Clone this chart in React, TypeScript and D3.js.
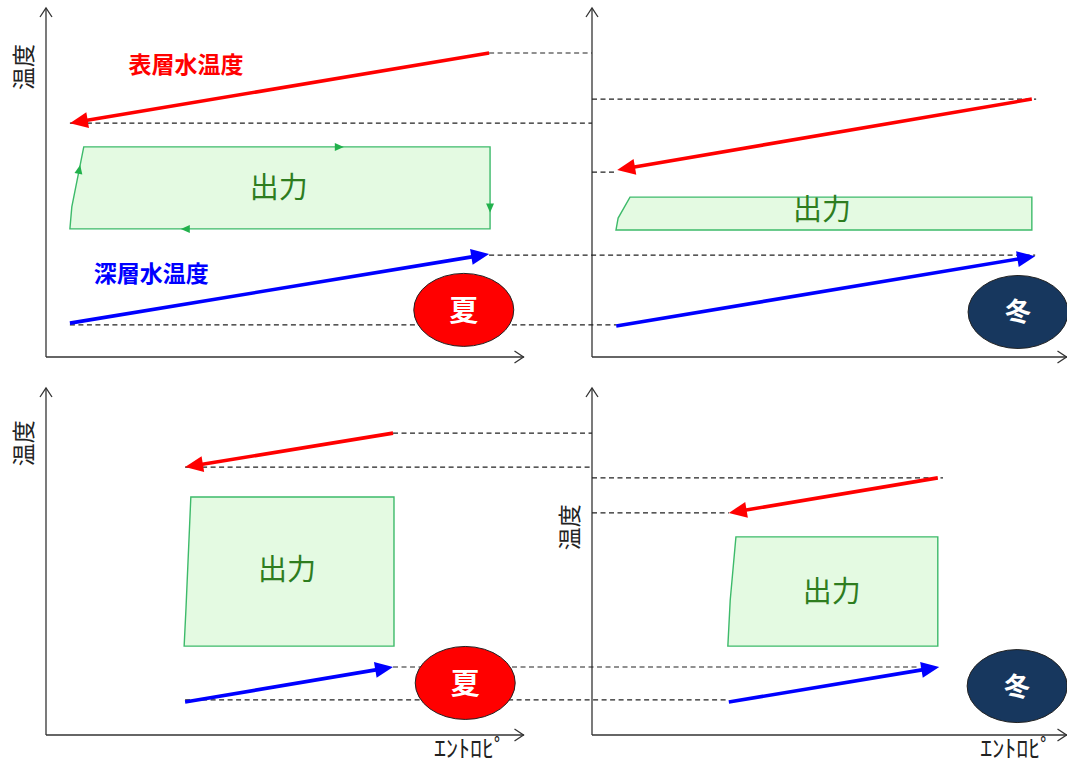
import React from "react";
import * as d3 from "d3";

const W = 1067;
const H = 765;

// ---------- data (axis units: entropy 0-100, temperature 0-100) ----------
const panelCols = [0, 1, 0, 1];
const panelRows = [0, 0, 1, 1];
const seasons = ["夏", "冬", "夏", "冬"];
const seasonColors = ["#ff0000", "#17375e", "#ff0000", "#17375e"];

// surface water (red) arrow: start -> end  [entropy, temperature]
const surfaceStart = [[92.7, 87.1], [92.6, 73.9], [72.6, 87.0], [72.8, 74.1]];
const surfaceEnd = [[5.0, 67.0], [5.3, 53.6], [29.1, 77.2], [28.8, 64.0]];
// deep water (blue) arrow
const deepStart = [[5.0, 9.7], [5.1, 8.9], [29.1, 9.5], [28.8, 9.5]];
const deepEnd = [[92.7, 29.5], [93.3, 28.9], [72.6, 19.6], [73.1, 19.6]];

// output cycle outline: top-left, top-right, bottom-right, bottom-left, left-edge bend
const outputCycle = [
  [[7.9, 60.2], [92.9, 60.2], [92.9, 36.7], [5.0, 36.7], [5.4, 43.0]],
  [[8.0, 45.8], [92.6, 45.8], [92.6, 36.4], [5.05, 36.4], [5.5, 39.8]],
  [[30.3, 68.6], [72.8, 68.6], [72.8, 25.6], [28.9, 25.6], [29.3, 36.9]],
  [[30.3, 57.1], [72.8, 57.1], [72.8, 25.6], [28.6, 25.6], [29.1, 38.9]],
];
const outputLabel = [[48.7, 49.2], [48.4, 43.0], [50.4, 48.4], [50.5, 42.1]];
const seasonBadge = [[87.4, 13.5], [89.7, 12.9], [87.7, 15.0], [89.5, 14.1]];

// direction marks on the first cycle: [edge index, fraction along edge]
const cycleMarks = [[0, 0.64], [1, 0.8], [2, 0.736], [4, 0.7]];

// series labels (panel 0 only)
const seriesLabels = ["表層水温度", "深層水温度"];
const seriesLabelColors = ["#ff0000", "#0000ff"];
const seriesLabelPos = [[29.3, 84.2], [22.0, 24.4]];

// axis titles
const yTitle = "温度";
const yTitleTemp = [83.1, null, 84.1, 59.9];
const xTitle = "ｴﾝﾄﾛﾋﾟ";
const xTitleEntropy = [null, null, 88.7, 89.3];

// guide (dashed) lines: [row, temperature, fromCol, fromEntropy, toCol, toEntropy]
const guides = [
  [0, 87.1, 0, 92.7, 1, 0],
  [0, 67.0, 0, 5.0, 1, 0],
  [0, 73.9, 1, 0, 1, 93.5],
  [0, 53.0, 1, 0, 1, 5.3],
  [0, 29.2, 0, 92.7, 1, 93.3],
  [0, 9.2, 0, 5.0, 1, 5.1],
  [1, 87.0, 0, 72.6, 1, 0],
  [1, 77.2, 0, 29.1, 1, 0],
  [1, 74.1, 1, 0, 1, 73.9],
  [1, 64.0, 1, 0, 1, 28.8],
  [1, 19.6, 0, 72.6, 1, 69.1],
  [1, 10.1, 0, 29.1, 1, 28.8],
];

// ---------- scales ----------
const xScales = [
  d3.scaleLinear().domain([0, 100]).range([46, 524]),
  d3.scaleLinear().domain([0, 100]).range([592, 1067]),
];
const yScales = [
  d3.scaleLinear().domain([0, 100]).range([357, 8]),
  d3.scaleLinear().domain([0, 100]).range([735, 388]),
];

const FONT = "'Noto Sans CJK JP', 'Noto Sans', sans-serif";
const AXIS = "#333";

function Arrow({ x1, y1, x2, y2, color, width }: any) {
  const ang = Math.atan2(y2 - y1, x2 - x1);
  const L = 18;
  const hw = 8;
  const bx = x2 - L * Math.cos(ang);
  const by = y2 - L * Math.sin(ang);
  const px = -Math.sin(ang) * hw;
  const py = Math.cos(ang) * hw;
  return (
    <g>
      <line
        x1={x1}
        y1={y1}
        x2={bx + 2 * Math.cos(ang)}
        y2={by + 2 * Math.sin(ang)}
        stroke={color}
        strokeWidth={width}
      />
      <polygon
        points={`${x2},${y2} ${bx + px},${by + py} ${bx - px},${by - py}`}
        fill={color}
      />
    </g>
  );
}

function Chevron({ x, y, dir }: any) {
  const a = 6;
  const b = 9;
  const pts =
    dir === "up"
      ? `${x - a},${y + b} ${x},${y} ${x + a},${y + b}`
      : `${x - b},${y - a} ${x},${y} ${x - b},${y + a}`;
  return <polyline points={pts} fill="none" stroke={AXIS} strokeWidth={1.3} />;
}

export default function App() {
  const lineGen = d3.line();
  return (
    <svg
      width={W}
      height={H}
      style={{ position: "absolute", left: 0, top: 0, background: "#fff" }}
      fontFamily={FONT}
    >
      <rect x={0} y={0} width={W} height={H} fill="#fff" />

      {/* axes */}
      {panelCols.map((c, i) => {
        const xs = xScales[c];
        const ys = yScales[panelRows[i]];
        const x0 = xs(0);
        const y0 = ys(0);
        return (
          <g key={"ax" + i}>
            <line x1={x0} y1={y0} x2={x0} y2={ys(100)} stroke={AXIS} strokeWidth={1.3} />
            <line x1={x0} y1={y0} x2={xs(100)} y2={y0} stroke={AXIS} strokeWidth={1.3} />
            <Chevron x={x0} y={ys(100)} dir="up" />
            <Chevron x={xs(100) - 0.5} y={y0} dir="right" />
          </g>
        );
      })}

      {/* guide lines */}
      {guides.map((g, i) => {
        const [row, t, c1, s1, c2, s2] = g;
        const y = yScales[row](t);
        return (
          <line
            key={"gd" + i}
            x1={xScales[c1](s1)}
            x2={xScales[c2](s2)}
            y1={y}
            y2={y}
            stroke="#222"
            strokeWidth={1.2}
            strokeDasharray="5,3.5"
          />
        );
      })}

      {/* output cycles */}
      {outputCycle.map((pts, i) => {
        const xs = xScales[panelCols[i]];
        const ys = yScales[panelRows[i]];
        const px = pts.map((p) => [xs(p[0]), ys(p[1])] as [number, number]);
        return (
          <path
            key={"oc" + i}
            d={lineGen(px) + "Z"}
            fill="#e4fae2"
            stroke="#3dba6a"
            strokeWidth={1.4}
          />
        );
      })}

      {/* direction marks on first cycle */}
      {cycleMarks.map((m, i) => {
        const pts = outputCycle[0];
        const xs = xScales[panelCols[0]];
        const ys = yScales[panelRows[0]];
        const a = pts[m[0]];
        const b = pts[(m[0] + 1) % pts.length];
        const ax = xs(a[0]);
        const ay = ys(a[1]);
        const bx = xs(b[0]);
        const by = ys(b[1]);
        const x = ax + (bx - ax) * m[1];
        const y = ay + (by - ay) * m[1];
        const ang = Math.atan2(by - ay, bx - ax);
        const L = 9;
        const hw = 4;
        const cx = x - L * Math.cos(ang);
        const cy = y - L * Math.sin(ang);
        const ox = -Math.sin(ang) * hw;
        const oy = Math.cos(ang) * hw;
        return (
          <polygon
            key={"cm" + i}
            points={`${x},${y} ${cx + ox},${cy + oy} ${cx - ox},${cy - oy}`}
            fill="#22b14c"
          />
        );
      })}

      {/* output labels */}
      {outputLabel.map((p, i) => (
        <text
          key={"ol" + i}
          x={xScales[panelCols[i]](p[0])}
          y={yScales[panelRows[i]](p[1])}
          textAnchor="middle"
          dominantBaseline="central"
          fontSize={29}
          fill="#2e7d1f"
        >
          出力
        </text>
      ))}

      {/* surface and deep water arrows */}
      {panelCols.map((c, i) => {
        const xs = xScales[c];
        const ys = yScales[panelRows[i]];
        return (
          <g key={"ar" + i}>
            <Arrow
              x1={xs(surfaceStart[i][0])}
              y1={ys(surfaceStart[i][1])}
              x2={xs(surfaceEnd[i][0])}
              y2={ys(surfaceEnd[i][1])}
              color="#ff0000"
              width={3.6}
            />
            <Arrow
              x1={xs(deepStart[i][0])}
              y1={ys(deepStart[i][1])}
              x2={xs(deepEnd[i][0])}
              y2={ys(deepEnd[i][1])}
              color="#0000ff"
              width={3.6}
            />
          </g>
        );
      })}

      {/* series labels */}
      {seriesLabels.map((s, i) => (
        <text
          key={"sl" + i}
          x={xScales[0](seriesLabelPos[i][0])}
          y={yScales[0](seriesLabelPos[i][1])}
          textAnchor="middle"
          dominantBaseline="central"
          fontSize={23}
          fontWeight="bold"
          fill={seriesLabelColors[i]}
        >
          {s}
        </text>
      ))}

      {/* season badges */}
      {seasonBadge.map((p, i) => {
        const x = xScales[panelCols[i]](p[0]);
        const y = yScales[panelRows[i]](p[1]);
        return (
          <g key={"sb" + i}>
            <ellipse cx={x} cy={y} rx={50} ry={36.5} fill={seasonColors[i]} stroke="#222" strokeWidth={1} />
            <text
              x={x}
              y={y - 2}
              textAnchor="middle"
              dominantBaseline="central"
              fontSize={i % 2 === 0 ? 29 : 26}
              fontWeight="bold"
              fill="#fff"
            >
              {seasons[i]}
            </text>
          </g>
        );
      })}

      {/* axis titles */}
      {yTitleTemp.map((t, i) => {
        if (t === null) return null;
        const x = xScales[panelCols[i]](0) - 24;
        const y = yScales[panelRows[i]](t);
        return (
          <text
            key={"yt" + i}
            transform={`translate(${x},${y}) rotate(-90)`}
            textAnchor="middle"
            dominantBaseline="central"
            fontSize={23}
            fill="#222"
          >
            {yTitle}
          </text>
        );
      })}
      {xTitleEntropy.map((s, i) => {
        if (s === null) return null;
        const x = xScales[panelCols[i]](s);
        const y = yScales[panelRows[i]](0) + 22;
        return (
          <text key={"xt" + i} x={x} y={y} textAnchor="middle" fontSize={24} fill="#222">
            {xTitle}
          </text>
        );
      })}
    </svg>
  );
}
